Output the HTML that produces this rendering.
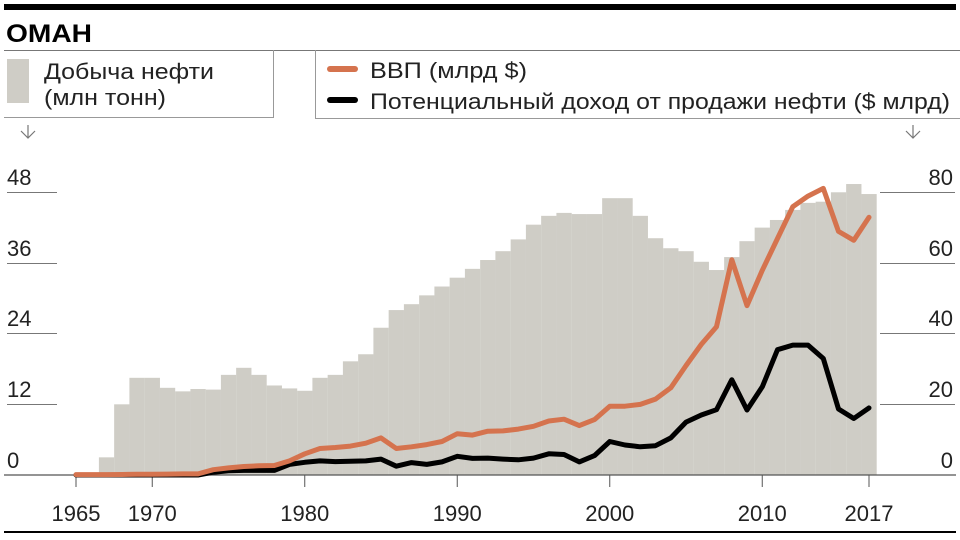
<!DOCTYPE html>
<html><head><meta charset="utf-8"><style>
html,body{margin:0;padding:0;background:#fff}
svg{display:block}
text{font-family:"Liberation Sans",sans-serif}
</style></head><body>
<svg id="s" width="960" height="540" xmlns="http://www.w3.org/2000/svg">
<rect x="4" y="4" width="952" height="6" fill="#000"/>
<text x="6" y="42" font-size="25" font-weight="bold" fill="#000" textLength="86" lengthAdjust="spacingAndGlyphs">ОМАН</text>
<line x1="4" y1="50.5" x2="960" y2="50.5" stroke="#777" stroke-width="1"/>
<line x1="273.5" y1="50" x2="273.5" y2="117" stroke="#999"/>
<line x1="4" y1="117.5" x2="274" y2="117.5" stroke="#999"/>
<line x1="315.5" y1="50" x2="315.5" y2="118" stroke="#999"/>
<line x1="315" y1="118.5" x2="960" y2="118.5" stroke="#999"/>
<rect x="7" y="59" width="22" height="44" fill="#cfcdc6"/>
<text x="44" y="79" font-size="22" fill="#222" textLength="170" lengthAdjust="spacingAndGlyphs">Добыча нефти</text>
<text x="44" y="105" font-size="22" fill="#222" textLength="122" lengthAdjust="spacingAndGlyphs">(млн тонн)</text>
<line x1="330" y1="69" x2="355" y2="69" stroke="#d5734e" stroke-width="6" stroke-linecap="round"/>
<line x1="330" y1="100" x2="355" y2="100" stroke="#000" stroke-width="6" stroke-linecap="round"/>
<text x="370" y="78" font-size="22" fill="#222" textLength="157" lengthAdjust="spacingAndGlyphs">ВВП (млрд $)</text>
<text x="370" y="109" font-size="22" fill="#222" textLength="580" lengthAdjust="spacingAndGlyphs">Потенциальный доход от продажи нефти ($ млрд)</text>
<path d="M28 125 V138 M21 131 L28 138 L35 131" stroke="#777" fill="none" stroke-width="1.2"/>
<path d="M913 125 V138 M906 131 L913 138 L920 131" stroke="#777" fill="none" stroke-width="1.2"/>
<g id="bars"></g>
<g id="grid"></g>
<g id="lines"></g>
<line x1="4" y1="532" x2="956" y2="532" stroke="#000" stroke-width="2"/>
</svg>
<script>
var NS="http://www.w3.org/2000/svg",s=document.getElementById('s');
function el(p,t,a,txt){var e=document.createElementNS(NS,t);for(var k in a)e.setAttribute(k,a[k]);if(txt!=null)e.textContent=txt;document.getElementById(p).appendChild(e);return e;}
function X(y){return 76+(y-1965)*15.25;}
var B=475;
var oil={1967:3,1968:12,1969:16.5,1970:16.5,1971:14.8,1972:14.2,1973:14.6,1974:14.5,1975:17,1976:18.2,1977:17,1978:15.2,1979:14.7,1980:14.3,1981:16.5,1982:17,1983:19.3,1984:20.5,1985:25,1986:28,1987:29,1988:30.5,1989:32,1990:33.5,1991:35,1992:36.5,1993:38,1994:40,1995:42.5,1996:44,1997:44.5,1998:44.3,1999:44.3,2000:47,2001:47,2002:44,2003:40.2,2004:38.5,2005:38,2006:36.2,2007:34.8,2008:37,2009:39.7,2010:42,2011:43.3,2012:45,2013:46.2,2014:46.4,2015:48,2016:49.4,2017:47.7};
for(var y in oil){var h=oil[y]*5.89;el('bars','rect',{x:X(+y)-7.6,y:B-h,width:15.3,height:h,fill:'#cfcdc6'});}
var ly=[[0,B],[12,404],[24,333],[36,263],[48,192]];
var ry=['0','20','40','60','80'];
for(var i=0;i<5;i++){var gy=ly[i][1];
 if(i>0){el('grid','line',{x1:7,y1:gy+0.5,x2:57,y2:gy+0.5,stroke:'#777','stroke-width':1});
 el('grid','line',{x1:880,y1:gy+0.5,x2:955,y2:gy+0.5,stroke:'#777','stroke-width':1});}
 el('grid','text',{x:7,y:gy-7,'font-size':22,fill:'#222'},ly[i][0]);
 el('grid','text',{x:953,y:gy-7,'font-size':22,fill:'#222','text-anchor':'end'},ry[i]);
}
el('grid','line',{x1:4,y1:B,x2:956,y2:B,stroke:'#555','stroke-width':1.2});
[[1965,'1965'],[1970,'1970'],[1980,'1980'],[1990,'1990'],[2000,'2000'],[2010,'2010'],[2017,'2017']].forEach(function(t){
 el('grid','line',{x1:X(t[0]),y1:B,x2:X(t[0]),y2:487,stroke:'#555','stroke-width':1});
 el('grid','text',{x:X(t[0]),y:521,'font-size':22,fill:'#222','text-anchor':'middle'},t[1]);
});
var gdp=[0.1,0.1,0.1,0.15,0.2,0.2,0.25,0.3,0.3,1.5,2,2.4,2.6,2.7,4,6,7.5,7.8,8.2,9,10.5,7.5,8,8.6,9.5,11.7,11.3,12.4,12.5,13,13.8,15.3,15.8,14,15.7,19.5,19.5,20,21.5,24.7,31,37,42,61,48,58,67,76,79,81.2,69,66.5,73];
var rev=[0,0,0,0,0,0,0,0,0,0.8,1.2,1.3,1.3,1.3,3,3.6,4,3.8,3.9,4,4.5,2.5,3.5,3,3.7,5.3,4.7,4.8,4.5,4.3,4.8,6,5.8,3.7,5.5,9.5,8.5,8,8.3,10.5,15,17,18.5,27,18.4,25,35.5,36.8,36.8,33,18.7,16,19];
function path(a){return a.map(function(v,i){return (i?'L':'M')+X(1965+i).toFixed(1)+' '+(B-v*3.53).toFixed(1);}).join(' ');}
el('lines','path',{d:path(rev),stroke:'#000','stroke-width':5,fill:'none','stroke-linejoin':'round','stroke-linecap':'round'});
el('lines','path',{d:path(gdp),stroke:'#d5734e','stroke-width':5,fill:'none','stroke-linejoin':'round','stroke-linecap':'round'});
</script>
</body></html>
